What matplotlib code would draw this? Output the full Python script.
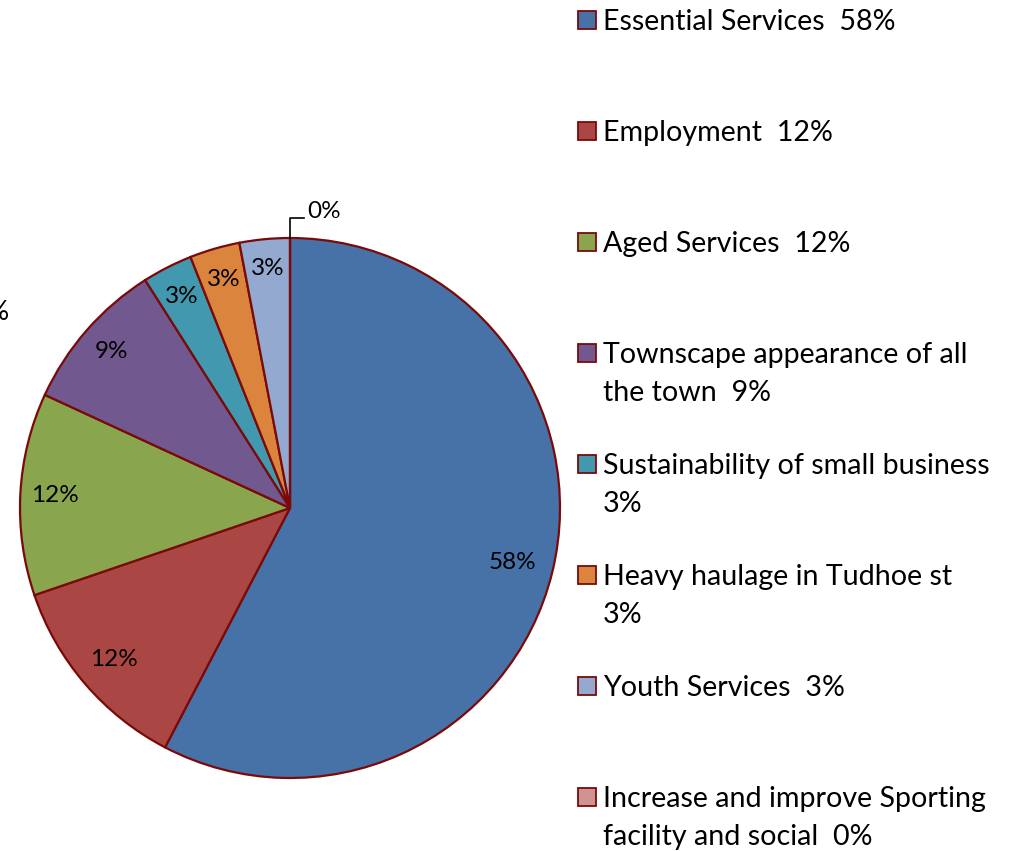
import numpy as np
import matplotlib
matplotlib.use("Agg")
import matplotlib.pyplot as plt
from matplotlib.patches import Rectangle

# ---- data ----
categories = [
    "Essential Services",
    "Employment",
    "Aged Services",
    "Townscape appearance of all\nthe town",
    "Sustainability of small business",
    "Heavy haulage in Tudhoe st",
    "Youth Services",
    "Increase and improve Sporting\nfacility and social",
]
values = [57.6, 12.1, 12.1, 9.1, 3.0, 3.0, 3.0, 0.0]
pct_labels = ["58%", "12%", "12%", "9%", "3%", "3%", "3%", "0%"]
legend_sep = ["  ", "  ", "  ", "  ", "\n", "\n", "  ", "  "]

colors = ["#4672A8", "#AA4643", "#89A54E", "#71588F",
          "#4198AF", "#DB843D", "#93A9CF", "#D19392"]
edge = "#7A0A0A"
FONT = ["Lato", "DejaVu Sans"]

W, H = 1027, 851
fig = plt.figure(figsize=(W / 100, H / 100), dpi=100)

# pie axes: centre (290,508) px, radius 270 px
cx, cy, R = 290, 508, 270
ax = fig.add_axes([(cx - R) / W, (H - cy - R) / H, 2 * R / W, 2 * R / H])

wedges, _ = ax.pie(values, colors=colors, startangle=90, counterclock=False,
                   radius=1.0, wedgeprops=dict(edgecolor=edge, linewidth=1.6))
ax.set_xlim(-1, 1)
ax.set_ylim(-1, 1)
ax.set_aspect("equal")
ax.axis("off")

label_r = [0.85, 0.86, 0.87, 0.88, 0.88, 0.88, 0.89]
for i, w in enumerate(wedges):
    mid = np.deg2rad((w.theta1 + w.theta2) / 2)
    if values[i] > 0:
        r = label_r[i]
        ax.text(r * np.cos(mid), r * np.sin(mid), pct_labels[i], ha="center",
                va="center", fontsize=17.5, family=FONT, color="#000000")
    else:
        x0, y0 = np.cos(mid), np.sin(mid)
        up = 20 / R
        ax.plot([x0, x0, x0 + 14 / R], [y0, y0 + up, y0 + up], color="black", lw=1.2,
                clip_on=False)
        ax.text(x0 + 17 / R, y0 + up, pct_labels[i], ha="left", va="baseline",
                fontsize=17.5, family=FONT, color="#000000")

# cut-off label at far left
fig.text(9 / W, 1 - 320 / H, "%", ha="right", va="baseline", fontsize=19, family=FONT)

# ---- legend ----
for i, cat in enumerate(categories):
    base = 30 + 111 * i
    fig.patches.append(Rectangle((578 / W, 1 - (base - 1) / H), 18 / W, 18 / H,
                                 transform=fig.transFigure, facecolor=colors[i],
                                 edgecolor=edge, linewidth=1.3))
    text = cat + legend_sep[i] + pct_labels[i]
    for k, line in enumerate(text.split("\n")):
        fig.text(603 / W, 1 - (base + 38 * k) / H, line, ha="left", va="baseline",
                 fontsize=20.6, family=FONT, color="#000000")

fig.savefig("out.png", dpi=100)
